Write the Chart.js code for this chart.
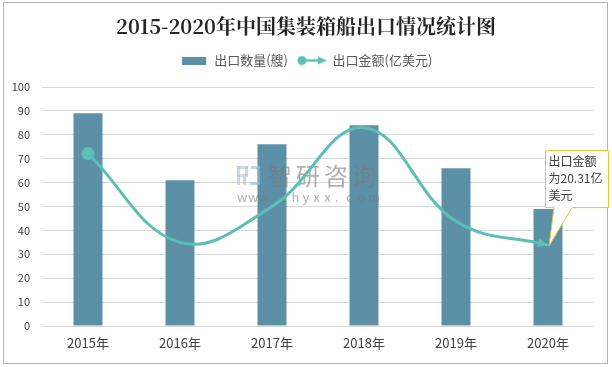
<!DOCTYPE html>
<html lang="zh">
<head>
<meta charset="UTF-8" />
<title>2015-2020年中国集装箱船出口情况统计图</title>
<style>
  html, body { margin: 0; padding: 0; background: #fff; }
  #wrap { position: relative; width: 612px; height: 367px; }
</style>
</head>
<body>
<div id="wrap"><canvas id="chart" width="612" height="367"></canvas></div>

<script src="https://cdn.jsdelivr.net/npm/chart.js"></script>
<script>
  // データ
  const years = ['2015年', '2016年', '2017年', '2018年', '2019年', '2020年'];
  const shipCount = [89, 61, 76, 84, 66, 49];            // 出口数量(艘)
  const exportValue = [43.3, 21, 30, 49.8, 26.3, 20.31];  // 出口金额(亿美元)
  const yTicks = [0, 10, 20, 30, 40, 50, 60, 70, 80, 90, 100];
  const calloutLines = ['出口金额', '为20.31亿', '美元'];

  const barColor = '#5c90a7';
  const lineColor = '#5cbfb5';
  const font = '"Microsoft YaHei", "Noto Sans CJK SC", sans-serif';

  // 凡例アイコン
  function barIcon() {
    const c = document.createElement('canvas');
    c.width = 24; c.height = 8;
    const g = c.getContext('2d');
    g.fillStyle = barColor;
    g.fillRect(0, 0, 24, 8);
    return c;
  }
  function lineIcon() {
    const c = document.createElement('canvas');
    c.width = 30; c.height = 10;
    const g = c.getContext('2d');
    g.strokeStyle = lineColor; g.fillStyle = lineColor; g.lineWidth = 2.5;
    g.beginPath(); g.moveTo(5, 5); g.lineTo(23, 5); g.stroke();
    g.beginPath(); g.arc(5, 5, 4.5, 0, Math.PI * 2); g.fill();
    g.beginPath(); g.moveTo(30, 5); g.lineTo(21, 1); g.lineTo(21, 9); g.closePath(); g.fill();
    return c;
  }

  function drawWatermark(ctx) {
    ctx.save();
    ctx.globalAlpha = 0.6;
    ctx.fillStyle = '#aebfd8';
    ctx.fillRect(237, 166, 11, 3);
    ctx.fillRect(237, 166, 3, 19);
    ctx.fillRect(245, 166, 3, 10);
    ctx.fillRect(237, 174, 11, 3);
    ctx.fillRect(243, 177, 3, 8);
    ctx.fillStyle = '#8fb8e0';
    ctx.fillRect(251, 166, 9, 3);
    ctx.fillRect(257, 166, 3, 19);
    ctx.fillRect(250, 182, 10, 3);
    ctx.fillStyle = '#7a7a7a';
    ctx.font = '24px ' + font;
    ctx.textBaseline = 'middle';
    const wm = '智研咨询';
    for (let i = 0; i < wm.length; i++) ctx.fillText(wm[i], 268 + i * 28, 176);
    ctx.font = '13px ' + font;
    const url = 'www.chyxx.com';
    for (let i = 0; i < url.length; i++) ctx.fillText(url[i], 237 + i * 10.9, 197);
    ctx.restore();
  }

  // 外枠・透かし・矢印・吹き出し
  const decor = {
    id: 'decor',
    beforeLayout(chart) {
      const lg = chart.legend;
      if (lg && !lg._patched) {
        const fit = lg.fit;
        lg.fit = function () { fit.call(this); this.height += 10; };
        lg._patched = true;
      }
    },
    beforeDraw(chart) {
      const ctx = chart.ctx;
      ctx.save();
      ctx.strokeStyle = '#b4b4b4';
      ctx.lineWidth = 1;
      ctx.strokeRect(3.5, 2.5, 604, 361);
      ctx.restore();
    },
    beforeDatasetDraw(chart, args) {
      if (args.index === 1) drawWatermark(chart.ctx);
    },
    afterDatasetsDraw(chart) {
      const ctx = chart.ctx;
      // 折れ線の終点の矢印
      const meta = chart.getDatasetMeta(1);
      const last = meta.data[meta.data.length - 1];
      const ang = Math.atan2(last.y - last.cp1y, last.x - last.cp1x);
      ctx.save();
      ctx.fillStyle = lineColor;
      ctx.translate(last.x, last.y);
      ctx.rotate(ang);
      ctx.beginPath();
      ctx.moveTo(0, 0); ctx.lineTo(-10, -4.5); ctx.lineTo(-10, 4.5); ctx.closePath();
      ctx.fill();
      ctx.restore();

      // 吹き出し
      const px = last.x, py = last.y;
      const bx = px - 2.5, by = py - 94.5, bw = 63, bh = 57;
      ctx.save();
      ctx.fillStyle = '#ffffff';
      ctx.strokeStyle = '#f2c037';
      ctx.lineWidth = 1;
      ctx.beginPath();
      ctx.moveTo(bx, by);
      ctx.lineTo(bx + bw, by);
      ctx.lineTo(bx + bw, by + bh);
      ctx.lineTo(px + 24, by + bh);
      ctx.lineTo(px + 1, py + 1);
      ctx.lineTo(px + 6, by + bh);
      ctx.lineTo(bx, by + bh);
      ctx.closePath();
      ctx.fill();
      ctx.stroke();
      ctx.fillStyle = '#404040';
      ctx.font = '12px ' + font;
      ctx.textBaseline = 'middle';
      calloutLines.forEach((t, i) => ctx.fillText(t, bx + 3, by + 11 + i * 17));
      ctx.restore();
    }
  };

  new Chart(document.getElementById('chart'), {
    data: {
      labels: years,
      datasets: [
        {
          type: 'bar',
          label: '出口数量(艘)',
          data: shipCount,
          backgroundColor: barColor,
          barPercentage: 0.315,
          categoryPercentage: 1,
          yAxisID: 'y',
          order: 2
        },
        {
          type: 'line',
          label: '出口金额(亿美元)',
          data: exportValue,
          borderColor: lineColor,
          backgroundColor: lineColor,
          borderWidth: 3,
          tension: 0.4,
          pointRadius: [5, 0, 0, 0, 0, 0],
          pointHoverRadius: 0,
          yAxisID: 'y1',
          order: 1
        }
      ]
    },
    options: {
      responsive: false,
      animation: false,
      layout: { padding: 0 },
      plugins: {
        title: {
          display: true,
          text: '2015-2020年中国集装箱船出口情况统计图',
          color: '#262626',
          font: { family: '"Noto Serif CJK SC", "Noto Sans CJK SC", serif', size: 20, weight: 'bold' },
          padding: { top: 14, bottom: 6 }
        },
        legend: {
          position: 'top',
          labels: {
            color: '#595959',
            font: { family: font, size: 13 },
            usePointStyle: true,
            pointStyleWidth: 28,
            padding: 10,
            generateLabels(chart) {
              return chart.data.datasets.map((ds, i) => ({
                text: ds.label,
                pointStyle: i === 0 ? barIcon() : lineIcon(),
                fontColor: '#595959',
                datasetIndex: i,
                lineWidth: 0
              }));
            }
          }
        },
        tooltip: { enabled: false }
      },
      scales: {
        x: {
          grid: { display: false, drawTicks: false },
          border: { display: false },
          ticks: { color: '#404040', font: { family: font, size: 13 }, padding: 9 },
          afterFit(scale) { scale.height = 41; }
        },
        y: {
          min: 0, max: 100,
          afterBuildTicks(scale) { scale.ticks = yTicks.map(v => ({ value: v })); },
          grid: { color: '#d9d9d9', drawTicks: false },
          border: { display: false },
          ticks: { color: '#404040', font: { family: font, size: 11 }, padding: 12 },
          afterFit(scale) { scale.width = 42; }
        },
        y1: {
          position: 'right',
          min: 0, max: 60,
          grid: { display: false, drawTicks: false },
          border: { display: false },
          ticks: { display: false },
          afterFit(scale) { scale.width = 18; }
        }
      }
    },
    plugins: [decor]
  });
</script>
</body>
</html>
